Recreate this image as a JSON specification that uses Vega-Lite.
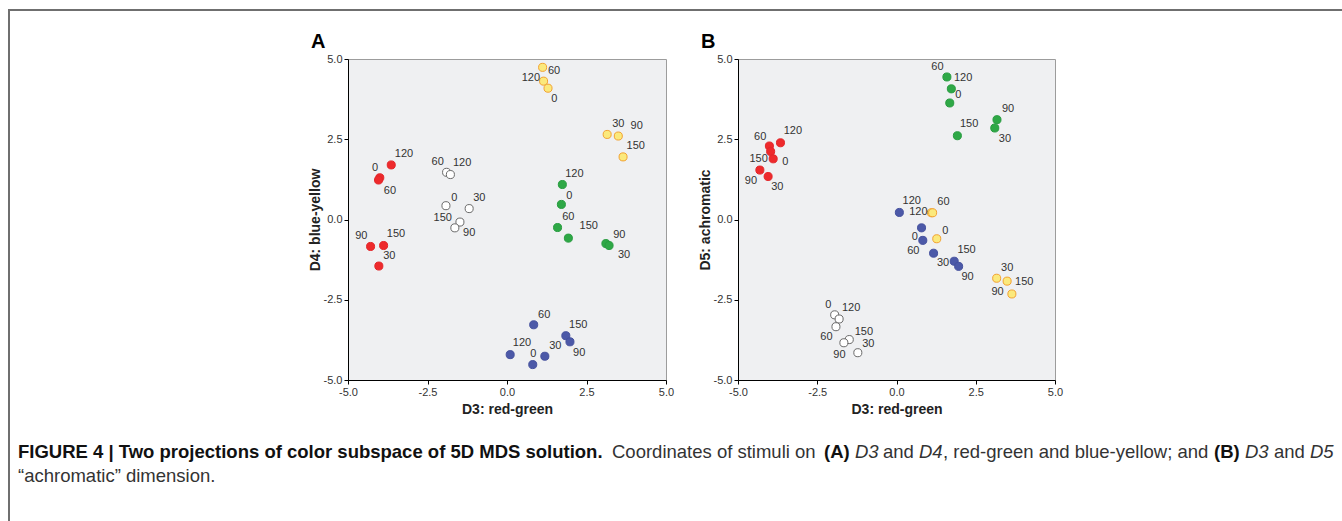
{
  "$schema": "https://vega.github.io/schema/vega-lite/v6.json",
  "background": "white",
  "padding": {"left": 8, "top": 9, "right": 0, "bottom": 0},
  "autosize": {"type": "pad"},
  "config": {
    "font": "Liberation Sans",
    "view": {"stroke": null},
    "axis": {
      "grid": false,
      "domainColor": "#000000",
      "domainWidth": 1,
      "tickColor": "#000000",
      "tickSize": 4,
      "labelFont": "Liberation Sans",
      "labelFontSize": 11,
      "labelColor": "#333333",
      "labelPadding": 2,
      "labelFlush": false,
      "labelOverlap": false,
      "titleFont": "Liberation Sans",
      "titleFontSize": 14,
      "titleFontWeight": "bold",
      "titleColor": "#222222"
    },
    "axisX": {"titlePadding": 5},
    "axisY": {"titlePadding": 1},
    "title": {"font": "Liberation Sans", "fontSize": 20, "fontWeight": "bold", "color": "#000000", "anchor": "start", "frame": "bounds", "baseline": "alphabetic", "offset": 1, "dx": 3}
  },
  "datasets": {
    "d3d4": [
      {"hue": "red", "angle": "120", "d3": -3.64, "d4": 1.70, "lx": -3.24, "ly": 2.05},
      {"hue": "red", "angle": "0", "d3": -4.00, "d4": 1.30, "lx": -4.15, "ly": 1.60},
      {"hue": "red", "angle": "60", "d3": -4.04, "d4": 1.23, "lx": -3.68, "ly": 0.89},
      {"hue": "red", "angle": "90", "d3": -4.29, "d4": -0.84, "lx": -4.58, "ly": -0.52},
      {"hue": "red", "angle": "150", "d3": -3.88, "d4": -0.81, "lx": -3.49, "ly": -0.44},
      {"hue": "red", "angle": "30", "d3": -4.03, "d4": -1.45, "lx": -3.70, "ly": -1.14},
      {"hue": "white", "angle": "60", "d3": -1.90, "d4": 1.47, "lx": -2.18, "ly": 1.78},
      {"hue": "white", "angle": "120", "d3": -1.78, "d4": 1.40, "lx": -1.41, "ly": 1.76},
      {"hue": "white", "angle": "0", "d3": -1.92, "d4": 0.43, "lx": -1.66, "ly": 0.67},
      {"hue": "white", "angle": "30", "d3": -1.19, "d4": 0.34, "lx": -0.87, "ly": 0.67},
      {"hue": "white", "angle": "150", "d3": -1.48, "d4": -0.08, "lx": -2.02, "ly": 0.05},
      {"hue": "white", "angle": "90", "d3": -1.64, "d4": -0.26, "lx": -1.19, "ly": -0.41},
      {"hue": "yellow", "angle": "60", "d3": 1.12, "d4": 4.74, "lx": 1.48, "ly": 4.62},
      {"hue": "yellow", "angle": "120", "d3": 1.15, "d4": 4.31, "lx": 0.75, "ly": 4.40},
      {"hue": "yellow", "angle": "0", "d3": 1.29, "d4": 4.09, "lx": 1.49, "ly": 3.76},
      {"hue": "yellow", "angle": "30", "d3": 3.15, "d4": 2.65, "lx": 3.50, "ly": 2.97},
      {"hue": "yellow", "angle": "90", "d3": 3.50, "d4": 2.60, "lx": 4.08, "ly": 2.92},
      {"hue": "yellow", "angle": "150", "d3": 3.65, "d4": 1.95, "lx": 4.05, "ly": 2.30},
      {"hue": "green", "angle": "120", "d3": 1.74, "d4": 1.09, "lx": 2.12, "ly": 1.43},
      {"hue": "green", "angle": "0", "d3": 1.71, "d4": 0.47, "lx": 1.96, "ly": 0.72},
      {"hue": "green", "angle": "60", "d3": 1.59, "d4": -0.25, "lx": 1.93, "ly": 0.08},
      {"hue": "green", "angle": "150", "d3": 1.93, "d4": -0.58, "lx": 2.57, "ly": -0.21},
      {"hue": "green", "angle": "90", "d3": 3.11, "d4": -0.75, "lx": 3.53, "ly": -0.49},
      {"hue": "green", "angle": "30", "d3": 3.21, "d4": -0.81, "lx": 3.68, "ly": -1.10},
      {"hue": "blue", "angle": "60", "d3": 0.84, "d4": -3.28, "lx": 1.17, "ly": -2.96},
      {"hue": "blue", "angle": "150", "d3": 1.85, "d4": -3.62, "lx": 2.24, "ly": -3.28},
      {"hue": "blue", "angle": "90", "d3": 1.98, "d4": -3.81, "lx": 2.27, "ly": -4.16},
      {"hue": "blue", "angle": "120", "d3": 0.10, "d4": -4.21, "lx": 0.47, "ly": -3.86},
      {"hue": "blue", "angle": "0", "d3": 0.81, "d4": -4.52, "lx": 0.83, "ly": -4.19},
      {"hue": "blue", "angle": "30", "d3": 1.19, "d4": -4.26, "lx": 1.52, "ly": -3.94}
    ],
    "d3d5": [
      {"hue": "red", "angle": "120", "d3": -3.66, "d5": 2.39, "lx": -3.27, "ly": 2.75},
      {"hue": "red", "angle": "60", "d3": -4.01, "d5": 2.29, "lx": -4.30, "ly": 2.58},
      {"hue": "red", "angle": "150", "d3": -3.97, "d5": 2.12, "lx": -4.35, "ly": 1.87},
      {"hue": "red", "angle": "0", "d3": -3.89, "d5": 1.89, "lx": -3.51, "ly": 1.79},
      {"hue": "red", "angle": "90", "d3": -4.31, "d5": 1.54, "lx": -4.59, "ly": 1.21},
      {"hue": "red", "angle": "30", "d3": -4.05, "d5": 1.34, "lx": -3.76, "ly": 1.00},
      {"hue": "green", "angle": "60", "d3": 1.59, "d5": 4.44, "lx": 1.29, "ly": 4.75},
      {"hue": "green", "angle": "120", "d3": 1.73, "d5": 4.07, "lx": 2.10, "ly": 4.41},
      {"hue": "green", "angle": "0", "d3": 1.68, "d5": 3.63, "lx": 1.95, "ly": 3.88},
      {"hue": "green", "angle": "150", "d3": 1.92, "d5": 2.61, "lx": 2.29, "ly": 2.96},
      {"hue": "green", "angle": "90", "d3": 3.17, "d5": 3.11, "lx": 3.52, "ly": 3.45},
      {"hue": "green", "angle": "30", "d3": 3.10, "d5": 2.85, "lx": 3.42, "ly": 2.52},
      {"hue": "blue", "angle": "120", "d3": 0.09, "d5": 0.22, "lx": 0.48, "ly": 0.58},
      {"hue": "blue", "angle": "0", "d3": 0.79, "d5": -0.26, "lx": 0.58, "ly": -0.54},
      {"hue": "blue", "angle": "60", "d3": 0.83, "d5": -0.65, "lx": 0.53, "ly": -0.98},
      {"hue": "blue", "angle": "30", "d3": 1.17, "d5": -1.05, "lx": 1.47, "ly": -1.37},
      {"hue": "blue", "angle": "150", "d3": 1.82, "d5": -1.30, "lx": 2.21, "ly": -0.94},
      {"hue": "blue", "angle": "90", "d3": 1.96, "d5": -1.46, "lx": 2.24, "ly": -1.79},
      {"hue": "yellow", "angle": "120", "d3": 1.10, "d5": 0.21, "lx": 0.69, "ly": 0.22},
      {"hue": "yellow", "angle": "60", "d3": 1.14, "d5": 0.21, "lx": 1.48, "ly": 0.53},
      {"hue": "yellow", "angle": "0", "d3": 1.27, "d5": -0.60, "lx": 1.54, "ly": -0.35},
      {"hue": "yellow", "angle": "30", "d3": 3.16, "d5": -1.83, "lx": 3.49, "ly": -1.51},
      {"hue": "yellow", "angle": "150", "d3": 3.49, "d5": -1.92, "lx": 4.03, "ly": -1.96},
      {"hue": "yellow", "angle": "90", "d3": 3.64, "d5": -2.32, "lx": 3.19, "ly": -2.26},
      {"hue": "white", "angle": "0", "d3": -1.95, "d5": -2.97, "lx": -2.15, "ly": -2.66},
      {"hue": "white", "angle": "120", "d3": -1.81, "d5": -3.10, "lx": -1.43, "ly": -2.75},
      {"hue": "white", "angle": "60", "d3": -1.91, "d5": -3.34, "lx": -2.21, "ly": -3.66},
      {"hue": "white", "angle": "150", "d3": -1.49, "d5": -3.74, "lx": -1.03, "ly": -3.49},
      {"hue": "white", "angle": "90", "d3": -1.66, "d5": -3.84, "lx": -1.80, "ly": -4.21},
      {"hue": "white", "angle": "30", "d3": -1.22, "d5": -4.15, "lx": -0.89, "ly": -3.89}
    ]
  },
  "spacing": 0,
  "hconcat": [
    {
      "width": 2,
      "height": 512,
      "data": {"values": []},
      "mark": "point",
      "view": {"fill": "#6f6f6f", "stroke": null}
    },
    {
      "spacing": 20,
      "vconcat": [
        {
          "width": 1332,
          "height": 2,
          "data": {"values": []},
          "mark": "point",
          "view": {"fill": "#6f6f6f", "stroke": null}
        },
        {
          "spacing": 22,
          "hconcat": [
            {
              "width": 275,
              "height": 10,
              "data": {"values": []},
              "mark": "point"
            },
            {
              "title": {"text": "A"},
              "width": 318,
              "height": 321,
              "view": {"fill": "#eff0f2", "stroke": "#9c9c9c", "strokeWidth": 1},
              "data": {"name": "d3d4"},
              "layer": [
                {
                  "mark": {"type": "point", "shape": "circle", "filled": true, "size": 65, "strokeWidth": 1, "opacity": 1},
                  "encoding": {
                    "x": {"field": "d3", "type": "quantitative", "title": "D3: red-green", "scale": {"domain": [-5, 5], "nice": false, "zero": false}, "axis": {"values": [-5, -2.5, 0, 2.5, 5], "labelExpr": "replace(format(datum.value, '.1f'), '\u2212', '-')"}},
                    "y": {"field": "d4", "type": "quantitative", "title": "D4: blue-yellow", "scale": {"domain": [-5, 5], "nice": false, "zero": false}, "axis": {"values": [-5, -2.5, 0, 2.5, 5], "labelExpr": "replace(format(datum.value, '.1f'), '\u2212', '-')"}},
                    "fill": {"field": "hue", "type": "nominal", "legend": null, "scale": {"domain": ["red", "green", "blue", "yellow", "white"], "range": ["#ee2a2c", "#2ea846", "#4c59a8", "#fbe97c", "#ffffff"]}},
                    "stroke": {"field": "hue", "type": "nominal", "legend": null, "scale": {"domain": ["red", "green", "blue", "yellow", "white"], "range": ["#e3262a", "#289c40", "#45519e", "#f2a232", "#6a6a6a"]}}
                  }
                },
                {
                  "mark": {"type": "text", "fontSize": 11, "fill": "#333333", "align": "center", "baseline": "middle"},
                  "encoding": {
                    "x": {"field": "lx", "type": "quantitative", "title": "D3: red-green"},
                    "y": {"field": "ly", "type": "quantitative", "title": "D4: blue-yellow"},
                    "text": {"field": "angle"}
                  }
                }
              ]
            },
            {
              "title": {"text": "B"},
              "width": 317,
              "height": 321,
              "view": {"fill": "#eff0f2", "stroke": "#9c9c9c", "strokeWidth": 1},
              "data": {"name": "d3d5"},
              "layer": [
                {
                  "mark": {"type": "point", "shape": "circle", "filled": true, "size": 65, "strokeWidth": 1, "opacity": 1},
                  "encoding": {
                    "x": {"field": "d3", "type": "quantitative", "title": "D3: red-green", "scale": {"domain": [-5, 5], "nice": false, "zero": false}, "axis": {"values": [-5, -2.5, 0, 2.5, 5], "labelExpr": "replace(format(datum.value, '.1f'), '\u2212', '-')"}},
                    "y": {"field": "d5", "type": "quantitative", "title": "D5: achromatic", "scale": {"domain": [-5, 5], "nice": false, "zero": false}, "axis": {"values": [-5, -2.5, 0, 2.5, 5], "labelExpr": "replace(format(datum.value, '.1f'), '\u2212', '-')"}},
                    "fill": {"field": "hue", "type": "nominal", "legend": null, "scale": {"domain": ["red", "green", "blue", "yellow", "white"], "range": ["#ee2a2c", "#2ea846", "#4c59a8", "#fbe97c", "#ffffff"]}},
                    "stroke": {"field": "hue", "type": "nominal", "legend": null, "scale": {"domain": ["red", "green", "blue", "yellow", "white"], "range": ["#e3262a", "#289c40", "#45519e", "#f2a232", "#6a6a6a"]}}
                  }
                },
                {
                  "mark": {"type": "text", "fontSize": 11, "fill": "#333333", "align": "center", "baseline": "middle"},
                  "encoding": {
                    "x": {"field": "lx", "type": "quantitative", "title": "D3: red-green"},
                    "y": {"field": "ly", "type": "quantitative", "title": "D5: achromatic"},
                    "text": {"field": "angle"}
                  }
                }
              ]
            }
          ]
        },
        {
          "width": 1332,
          "height": 70,
          "data": {"values": [{}]},
          "layer": [
            {"mark": {"type": "text", "x": 8, "y": 21, "align": "left", "baseline": "alphabetic", "fontSize": 18.5, "fontWeight": "bold", "fill": "#111111", "text": "FIGURE 4 | Two projections of color subspace of 5D MDS solution."}},
            {"mark": {"type": "text", "x": 602, "y": 21, "align": "left", "baseline": "alphabetic", "fontSize": 18.5, "fill": "#333333", "text": "Coordinates of stimuli on"}},
            {"mark": {"type": "text", "x": 814, "y": 21, "align": "left", "baseline": "alphabetic", "fontSize": 18.5, "fontWeight": "bold", "fill": "#111111", "text": "(A)"}},
            {"mark": {"type": "text", "x": 845, "y": 21, "align": "left", "baseline": "alphabetic", "fontSize": 18.5, "fontStyle": "italic", "fill": "#333333", "text": "D3"}},
            {"mark": {"type": "text", "x": 873, "y": 21, "align": "left", "baseline": "alphabetic", "fontSize": 18.5, "fill": "#333333", "text": "and"}},
            {"mark": {"type": "text", "x": 909, "y": 21, "align": "left", "baseline": "alphabetic", "fontSize": 18.5, "fontStyle": "italic", "fill": "#333333", "text": "D4"}},
            {"mark": {"type": "text", "x": 933, "y": 21, "align": "left", "baseline": "alphabetic", "fontSize": 18.5, "fill": "#333333", "text": ", red-green and blue-yellow; and"}},
            {"mark": {"type": "text", "x": 1204, "y": 21, "align": "left", "baseline": "alphabetic", "fontSize": 18.5, "fontWeight": "bold", "fill": "#111111", "text": "(B)"}},
            {"mark": {"type": "text", "x": 1235, "y": 21, "align": "left", "baseline": "alphabetic", "fontSize": 18.5, "fontStyle": "italic", "fill": "#333333", "text": "D3"}},
            {"mark": {"type": "text", "x": 1264, "y": 21, "align": "left", "baseline": "alphabetic", "fontSize": 18.5, "fill": "#333333", "text": "and"}},
            {"mark": {"type": "text", "x": 1300, "y": 21, "align": "left", "baseline": "alphabetic", "fontSize": 18.5, "fontStyle": "italic", "fill": "#333333", "text": "D5"}},
            {"mark": {"type": "text", "x": 8, "y": 45, "align": "left", "baseline": "alphabetic", "fontSize": 18.5, "fill": "#333333", "text": "\u201cachromatic\u201d dimension."}}
          ]
        }
      ]
    }
  ]
}
